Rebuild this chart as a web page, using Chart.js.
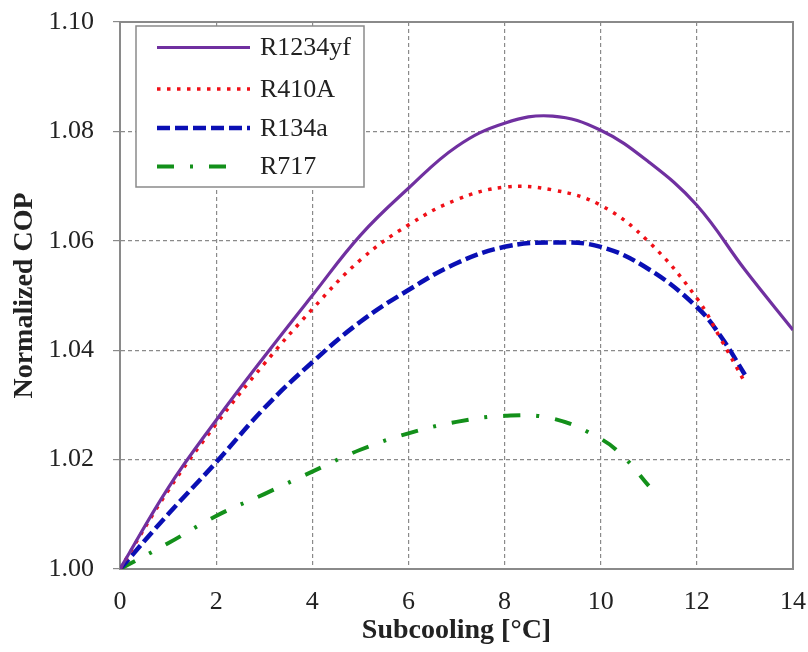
<!DOCTYPE html>
<html>
<head>
<meta charset="utf-8">
<script src="https://cdn.jsdelivr.net/npm/chart.js@4/dist/chart.umd.min.js"></script>
<style>
  html, body { margin: 0; padding: 0; background: #fff; }
  #wrap { width: 808px; height: 652px; }
</style>
</head>
<body>
<div id="wrap"><canvas id="c" width="808" height="652"></canvas></div>
<script>
// Subcooling (°C) sample points for each refrigerant
const xR1234yf = [0, 1, 2, 3, 4, 5, 6, 7, 8, 9, 10, 11, 12, 13, 14];
const yR1234yf = [1.000, 1.0148, 1.0272, 1.0388, 1.0500, 1.0610, 1.0696, 1.0772, 1.0815, 1.0828, 1.0802, 1.0744, 1.0665, 1.0547, 1.0437];

const xR410A = [0, 1, 2, 3, 4, 5, 6, 7, 8, 9, 10, 11, 12, 12.5, 13];
const yR410A = [1.000, 1.0143, 1.0265, 1.0375, 1.0475, 1.0565, 1.0629, 1.0675, 1.0698, 1.0693, 1.0665, 1.0598, 1.0495, 1.0420, 1.0341];

const xR134a = [0, 1, 2, 3, 4, 5, 6, 7, 8, 9, 10, 11, 12, 12.5, 13];
const yR134a = [1.000, 1.0100, 1.0195, 1.0294, 1.0378, 1.0452, 1.0510, 1.0559, 1.0589, 1.0597, 1.0589, 1.0548, 1.0479, 1.0425, 1.0355];

const xR717 = [0, 1, 2, 3, 4, 5, 6, 7, 8, 9, 10, 10.5, 11];
const yR717 = [1.000, 1.0047, 1.0097, 1.0137, 1.0178, 1.0218, 1.0248, 1.0269, 1.0280, 1.0275, 1.0238, 1.0203, 1.0152];

// Axis ticks
const xTicks = [0, 2, 4, 6, 8, 10, 12, 14];
const yTicks = [1.00, 1.02, 1.04, 1.06, 1.08, 1.10];

const pts = (xs, ys) => xs.map((x, i) => ({ x: x, y: ys[i] }));

const SERIF = "'Liberation Serif', 'Times New Roman', serif";
const GRID = '#8a8a8a';

// Plot frame (all four sides solid)
const framePlugin = {
  id: 'frame',
  beforeDatasetsDraw(chart) {
    const { ctx, chartArea: a } = chart;
    ctx.save();
    ctx.strokeStyle = '#8a8a8a';
    ctx.lineWidth = 2;
    ctx.setLineDash([]);
    ctx.strokeRect(a.left, a.top, a.right - a.left, a.bottom - a.top);
    ctx.restore();
  }
};

// Boxed legend in the upper-left corner of the plot
const boxLegend = {
  id: 'boxLegend',
  afterDraw(chart) {
    const { ctx, chartArea: a } = chart;
    const bx = a.left + 16, by = a.top + 4, bw = 228, bh = 161;
    ctx.save();
    ctx.fillStyle = '#fff';
    ctx.fillRect(bx, by, bw, bh);
    ctx.strokeStyle = '#8a8a8a';
    ctx.lineWidth = 1.5;
    ctx.strokeRect(bx, by, bw, bh);
    const rowY = [21.5, 63, 102, 140.5];
    chart.data.datasets.forEach((ds, i) => {
      const y = by + rowY[i];
      ctx.beginPath();
      ctx.strokeStyle = ds.borderColor;
      ctx.lineWidth = ds.borderWidth;
      ctx.lineCap = 'butt';
      ctx.setLineDash(ds.borderDash || []);
      ctx.moveTo(bx + 21, y);
      ctx.lineTo(bx + (ds.legendEnd || 114), y);
      ctx.stroke();
      ctx.setLineDash([]);
      ctx.fillStyle = '#222';
      ctx.font = '26px ' + SERIF;
      ctx.textBaseline = 'middle';
      ctx.textAlign = 'left';
      ctx.fillText(ds.label, bx + 124, y + 1);
    });
    ctx.restore();
  }
};

const lineDefaults = { fill: false, pointRadius: 0, pointHoverRadius: 0, tension: 0.4, showLine: true };

new Chart(document.getElementById('c'), {
  type: 'line',
  data: {
    datasets: [
      Object.assign({ label: 'R1234yf', data: pts(xR1234yf, yR1234yf), borderColor: '#7030A0', borderWidth: 3.2, borderDash: [] }, lineDefaults),
      Object.assign({ label: 'R410A', data: pts(xR410A, yR410A), borderColor: '#F01018', borderWidth: 3.5, borderDash: [3.5, 6.5] }, lineDefaults),
      Object.assign({ label: 'R134a', data: pts(xR134a, yR134a), borderColor: '#0A0FB4', borderWidth: 4.5, borderDash: [13, 5] }, lineDefaults),
      Object.assign({ label: 'R717', data: pts(xR717, yR717), borderColor: '#13901A', borderWidth: 4, borderDash: [17, 16, 3, 16], legendEnd: 97 }, lineDefaults)
    ]
  },
  options: {
    responsive: false,
    animation: false,
    events: [],
    layout: { padding: { top: 22, right: 15, left: 0, bottom: 0 } },
    plugins: { legend: { display: false }, tooltip: { enabled: false } },
    scales: {
      x: {
        type: 'linear',
        min: 0, max: 14,
        afterFit(scale) {
          scale.height = 83;
          scale.paddingLeft = 0;
          scale.paddingRight = 0;
        },
        afterBuildTicks(scale) { scale.ticks = xTicks.map(v => ({ value: v })); },
        ticks: {
          color: '#222',
          font: { family: SERIF, size: 26 },
          padding: 18,
          maxRotation: 0,
          callback: v => String(v)
        },
        grid: { color: GRID, lineWidth: 1.2, drawTicks: false, borderDash: [4, 3] },
        border: { display: true, color: GRID, width: 2, dash: [4, 3] },
        title: {
          display: true,
          text: 'Subcooling [°C]',
          color: '#222',
          font: { family: SERIF, size: 28, weight: 'bold' },
          padding: { top: 0, bottom: 4 }
        }
      },
      y: {
        type: 'linear',
        min: 1.0, max: 1.1,
        afterFit(scale) {
          scale.width = 120;
          scale.paddingTop = 0;
          scale.paddingBottom = 0;
        },
        afterBuildTicks(scale) { scale.ticks = yTicks.map(v => ({ value: v })); },
        ticks: {
          color: '#222',
          font: { family: SERIF, size: 26 },
          padding: 19,
          callback: v => Number(v).toFixed(2)
        },
        grid: { color: GRID, lineWidth: 1.2, drawTicks: true, tickLength: 7, tickColor: GRID, tickBorderDash: [], borderDash: [4, 3] },
        border: { display: true, color: GRID, width: 2, dash: [4, 3] },
        title: {
          display: true,
          text: 'Normalized COP',
          color: '#222',
          font: { family: SERIF, size: 28, weight: 'bold' },
          padding: { top: 8, bottom: 0 }
        }
      }
    }
  },
  plugins: [framePlugin, boxLegend]
});
</script>
</body>
</html>
